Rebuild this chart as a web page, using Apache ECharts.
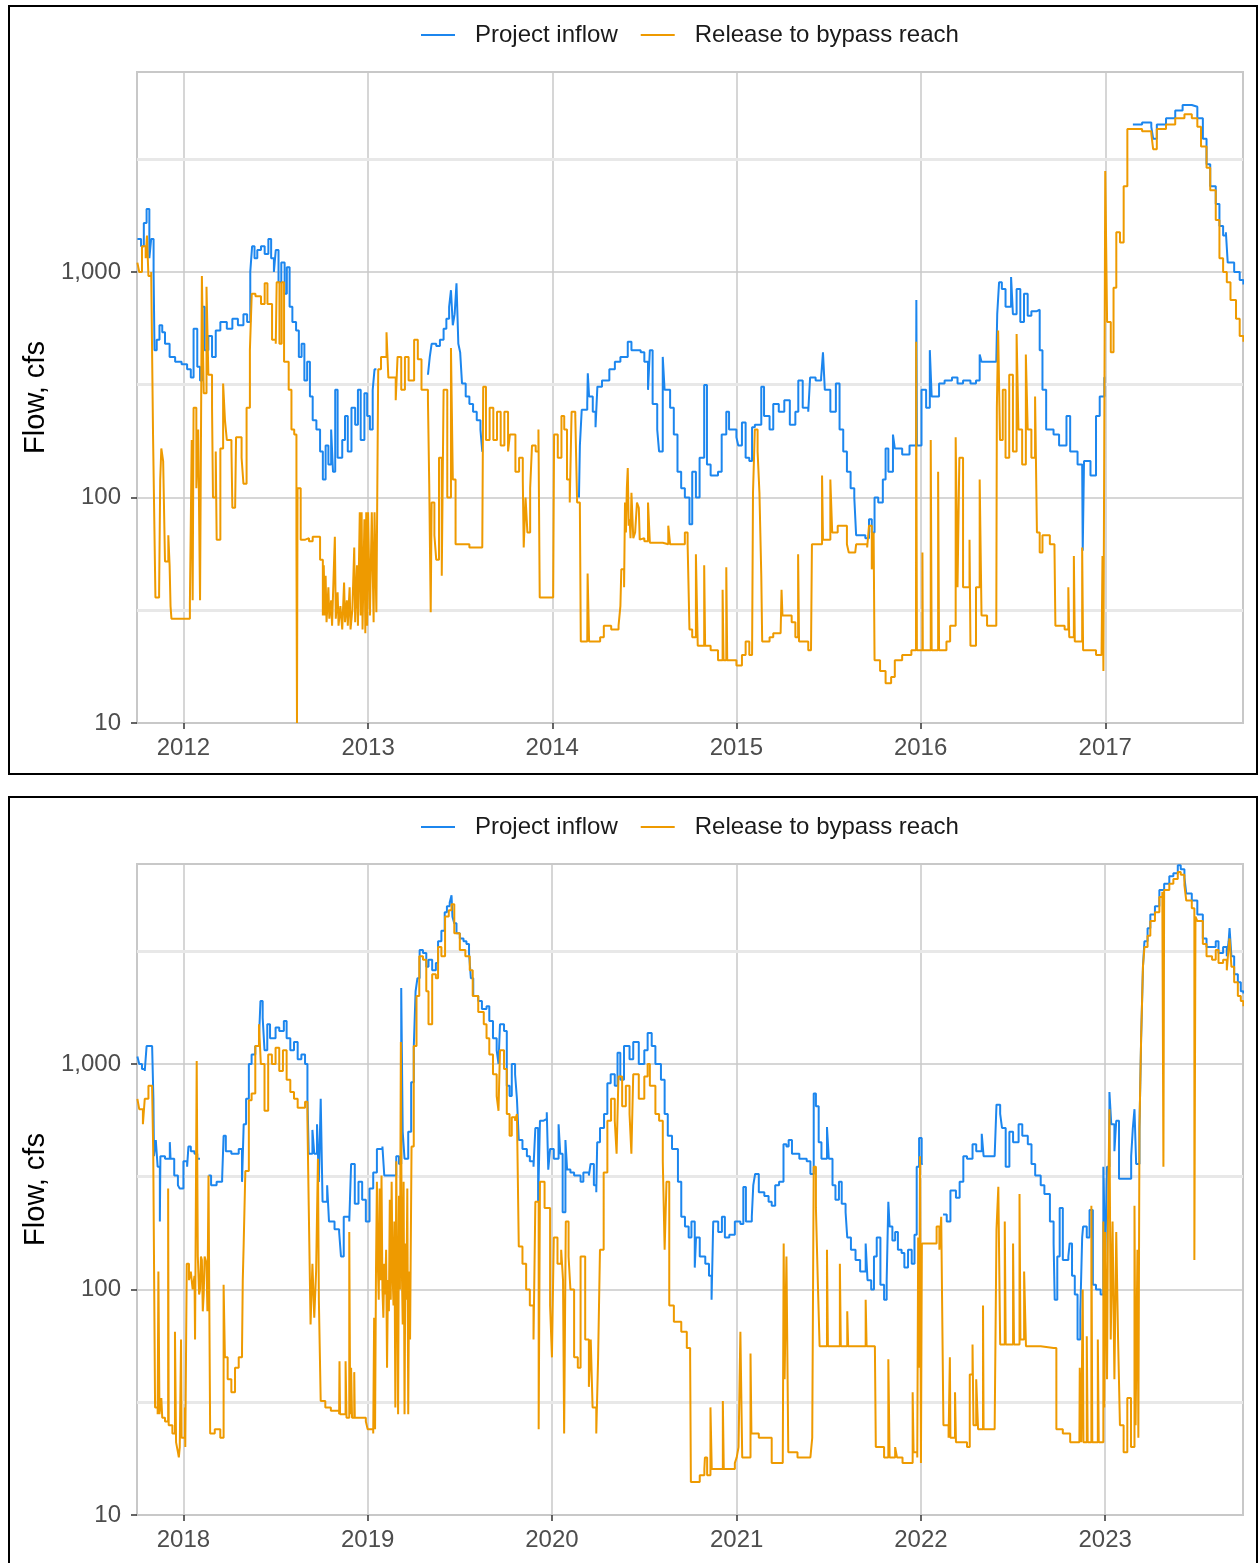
<!DOCTYPE html>
<html>
<head>
<meta charset="utf-8">
<script src="https://cdn.jsdelivr.net/npm/echarts@6/dist/echarts.min.js"></script>
<style>
  body { margin: 0; background: #fff; width: 1259px; height: 1563px; overflow: hidden; position: relative; }
  .panel { position: absolute; left: 8px; width: 1246px; border: 2px solid #000; background: #fff; }
  #top { top: 5px; height: 766px; }
  #bottom { top: 796px; height: 780px; }
</style>
</head>
<body>
<div id="top" class="panel"></div>
<div id="bottom" class="panel"></div>
<script>
// Daily flow, as [decimal year, cfs]; null = no inflow record
const inflowA = [
  [2011.75,1400],[2011.77,1300],[2011.785,1650],[2011.8,1900],[2011.815,1150],[2011.825,1400],[2011.838,1000],
  [2011.843,450],[2011.855,500],[2011.87,580],[2011.885,540],[2011.9,480],[2011.925,420],[2011.955,400],
  [2011.99,390],[2012.02,370],[2012.04,340],[2012.055,560],[2012.075,380],[2012.09,330],[2012.102,700],
  [2012.115,450],[2012.135,520],[2012.155,420],[2012.175,550],[2012.2,600],[2012.235,560],[2012.265,620],
  [2012.295,580],[2012.325,650],[2012.345,600],[2012.362,1000],[2012.372,1300],[2012.385,1150],[2012.4,1250],
  [2012.42,1300],[2012.44,1200],[2012.46,1400],[2012.475,1150],[2012.49,1000],[2012.5,1250],[2012.515,900],
  [2012.53,1100],[2012.548,800],[2012.56,1050],[2012.575,700],[2012.59,600],[2012.61,550],[2012.625,420],
  [2012.64,480],[2012.655,330],[2012.67,400],[2012.685,280],[2012.7,220],[2012.72,200],[2012.74,160],
  [2012.755,120],[2012.77,170],[2012.785,140],[2012.8,200],[2012.81,130],[2012.822,300],[2012.835,150],
  [2012.86,180],[2012.875,230],[2012.89,160],[2012.91,250],[2012.93,210],[2012.945,300],[2012.96,180],
  [2012.98,290],[2012.995,230],[2013.01,200],[2013.025,300],[2013.035,370],[2013.045,null],
  [2013.325,350],[2013.335,420],[2013.345,480],[2013.37,470],[2013.39,500],[2013.41,560],[2013.425,620],
  [2013.44,700],[2013.45,830],[2013.46,580],[2013.47,650],[2013.48,890],[2013.49,480],[2013.5,440],
  [2013.51,320],[2013.53,280],[2013.55,260],[2013.57,240],[2013.59,220],[2013.61,200],[2013.62,160],[2013.625,null],
  [2014.145,100],[2014.15,170],[2014.16,245],[2014.19,260],[2014.193,355],[2014.2,280],[2014.22,240],
  [2014.235,205],[2014.245,310],[2014.27,330],[2014.31,370],[2014.34,400],[2014.37,420],[2014.41,490],
  [2014.43,450],[2014.48,440],[2014.5,400],[2014.52,300],[2014.53,450],[2014.545,260],[2014.57,200],
  [2014.58,160],[2014.6,420],[2014.61,300],[2014.64,250],[2014.66,190],[2014.68,130],[2014.7,110],
  [2014.72,100],[2014.745,76],[2014.76,130],[2014.78,100],[2014.8,150],[2014.825,315],[2014.84,140],
  [2014.86,125],[2014.9,130],[2014.92,190],[2014.945,240],[2014.96,200],[2015.0,185],[2015.01,170],
  [2015.03,215],[2015.05,150],[2015.07,145],[2015.085,205],[2015.1,210],[2015.135,310],[2015.15,230],
  [2015.18,200],[2015.2,260],[2015.23,240],[2015.26,270],[2015.29,210],[2015.32,240],[2015.336,330],
  [2015.36,250],[2015.39,240],[2015.4,340],[2015.43,330],[2015.46,340],[2015.47,440],[2015.48,300],
  [2015.51,240],[2015.54,320],[2015.56,200],[2015.58,160],[2015.6,130],[2015.62,110],[2015.64,100],
  [2015.65,68],[2015.7,66],[2015.72,80],[2015.735,70],[2015.75,100],[2015.77,95],[2015.795,120],
  [2015.81,165],[2015.825,130],[2015.85,190],[2015.86,165],[2015.9,155],[2015.94,170],[2015.975,175],
  [2015.977,750],[2015.98,170],[2016.005,300],[2016.03,250],[2016.05,450],[2016.06,280],[2016.1,320],
  [2016.13,330],[2016.17,340],[2016.2,320],[2016.23,330],[2016.27,320],[2016.3,330],[2016.32,430],
  [2016.33,400],[2016.41,400],[2016.415,650],[2016.425,900],[2016.44,840],[2016.46,700],[2016.49,950],
  [2016.5,650],[2016.52,840],[2016.54,600],[2016.56,800],[2016.58,640],[2016.6,670],[2016.63,680],
  [2016.645,450],[2016.66,300],[2016.68,200],[2016.72,190],[2016.75,170],[2016.79,230],[2016.81,160],
  [2016.85,140],[2016.875,140],[2016.878,58],[2016.885,145],[2016.92,125],[2016.95,230],[2016.97,280],
  [2016.995,340],[2017.0,null],
  [2017.15,4500],[2017.2,4600],[2017.25,4400],[2017.26,3900],[2017.28,4500],[2017.33,4800],[2017.38,5200],
  [2017.42,5500],[2017.47,5400],[2017.5,4800],[2017.53,3900],[2017.55,3000],[2017.57,2400],[2017.6,2000],
  [2017.62,1600],[2017.64,1450],[2017.655,1500],[2017.665,1100],[2017.7,1000],[2017.73,920],[2017.75,880]
];
const releaseA = [
  [2011.75,1100],[2011.76,1000],[2011.775,1300],[2011.795,1150],[2011.802,1450],[2011.81,960],[2011.825,1000],
  [2011.835,190],[2011.845,190],[2011.848,36],[2011.855,36],[2011.868,38],[2011.874,120],[2011.88,165],
  [2011.89,145],[2011.9,52],[2011.918,68],[2011.925,50],[2011.93,33],[2011.935,29],[2011.99,29],[2012.02,29],
  [2012.035,34],[2012.045,180],[2012.05,35],[2012.055,250],[2012.07,110],[2012.08,200],[2012.09,35],
  [2012.1,960],[2012.11,290],[2012.125,860],[2012.135,350],[2012.155,250],[2012.16,100],[2012.175,160],
  [2012.18,65],[2012.2,165],[2012.215,320],[2012.225,220],[2012.235,180],[2012.26,165],[2012.265,90],
  [2012.28,90],[2012.285,185],[2012.315,150],[2012.325,115],[2012.342,250],[2012.36,450],[2012.37,800],
  [2012.39,780],[2012.42,720],[2012.44,890],[2012.455,720],[2012.48,500],[2012.5,480],[2012.505,900],
  [2012.52,480],[2012.532,900],[2012.545,400],[2012.57,300],[2012.585,200],[2012.6,190],[2012.612,65],
  [2012.615,10],[2012.618,110],[2012.635,65],[2012.66,66],[2012.68,64],[2012.7,67],[2012.74,53],
  [2012.755,30],[2012.76,50],[2012.765,30],[2012.77,45],[2012.775,28],[2012.785,40],[2012.79,29],
  [2012.8,35],[2012.805,27],[2012.815,50],[2012.82,67],[2012.825,29],[2012.835,38],[2012.84,27],
  [2012.85,33],[2012.86,26],[2012.87,42],[2012.875,28],[2012.885,35],[2012.89,27],[2012.9,40],
  [2012.905,26],[2012.915,32],[2012.925,60],[2012.93,28],[2012.94,50],[2012.945,27],[2012.955,86],
  [2012.96,30],[2012.965,86],[2012.97,26],[2012.98,80],[2012.985,25],[2012.99,86],[2012.995,27],
  [2013.0,86],[2013.01,30],[2013.02,86],[2013.03,28],[2013.035,86],[2013.045,31],
  [2013.055,370],[2013.07,420],[2013.1,540],[2013.11,340],[2013.15,270],[2013.16,420],[2013.18,300],
  [2013.2,420],[2013.22,330],[2013.25,500],[2013.27,410],[2013.29,300],[2013.325,270],[2013.332,115],
  [2013.34,31],[2013.345,95],[2013.36,68],[2013.37,53],[2013.385,150],[2013.4,45],[2013.41,300],
  [2013.43,100],[2013.45,460],[2013.46,120],[2013.475,62],[2013.55,60],[2013.62,60],[2013.625,310],
  [2013.64,180],[2013.66,250],[2013.68,180],[2013.7,240],[2013.72,170],[2013.74,240],[2013.76,160],
  [2013.77,190],[2013.8,130],[2013.82,150],[2013.84,120],[2013.845,60],[2013.855,100],[2013.865,70],
  [2013.88,110],[2013.89,170],[2013.91,160],[2013.925,200],[2013.932,36],[2013.96,36],[2014.005,37],
  [2014.01,190],[2014.03,150],[2014.05,230],[2014.065,200],[2014.08,120],[2014.095,95],[2014.105,240],
  [2014.125,230],[2014.135,95],[2014.15,90],[2014.155,23],[2014.19,23],[2014.192,46],[2014.2,23],
  [2014.26,24],[2014.28,27],[2014.32,26],[2014.36,27],[2014.37,33],[2014.375,48],[2014.39,40],
  [2014.395,95],[2014.4,70],[2014.405,110],[2014.41,135],[2014.415,75],[2014.42,80],[2014.425,66],
  [2014.43,105],[2014.44,66],[2014.45,70],[2014.46,95],[2014.47,90],[2014.475,65],[2014.48,66],
  [2014.5,64],[2014.52,95],[2014.53,63],[2014.6,62],[2014.63,75],[2014.64,62],[2014.7,62],[2014.72,70],
  [2014.735,62],[2014.745,26],[2014.76,24],[2014.78,56],[2014.79,22],[2014.825,50],[2014.83,22],
  [2014.86,21],[2014.9,19],[2014.925,39],[2014.93,19],[2014.945,49],[2014.95,19],[2015.0,18],[2015.03,20],
  [2015.05,23],[2015.07,20],[2015.085,20],[2015.09,105],[2015.1,200],[2015.115,160],[2015.125,105],
  [2015.135,45],[2015.14,23],[2015.18,24],[2015.2,25],[2015.24,25],[2015.245,39],[2015.25,30],[2015.3,28],
  [2015.32,24],[2015.335,56],[2015.34,23],[2015.39,21],[2015.405,21],[2015.41,62],[2015.44,62],
  [2015.465,125],[2015.47,65],[2015.51,120],[2015.52,70],[2015.55,75],[2015.6,62],[2015.61,57],
  [2015.645,56],[2015.65,62],[2015.71,60],[2015.72,75],[2015.735,48],[2015.745,70],[2015.75,19],
  [2015.78,17],[2015.81,15],[2015.84,16],[2015.86,19],[2015.9,20],[2015.95,21],[2015.975,21],[2015.976,490],
  [2015.98,21],[2016.01,57],[2016.012,21],[2016.055,180],[2016.06,21],[2016.095,130],[2016.1,21],
  [2016.14,23],[2016.16,27],[2016.19,185],[2016.2,40],[2016.21,150],[2016.23,40],[2016.265,65],[2016.27,22],
  [2016.3,40],[2016.32,120],[2016.33,30],[2016.36,27],[2016.41,28],[2016.413,250],[2016.42,550],
  [2016.43,180],[2016.445,300],[2016.46,150],[2016.48,350],[2016.5,160],[2016.52,530],[2016.53,200],
  [2016.55,140],[2016.57,430],[2016.58,200],[2016.6,150],[2016.62,280],[2016.63,70],[2016.645,57],
  [2016.66,68],[2016.7,62],[2016.725,60],[2016.73,27],[2016.78,26],[2016.8,40],[2016.805,24],[2016.83,55],
  [2016.835,23],[2016.875,60],[2016.88,21],[2016.95,20],[2016.98,20],[2016.985,55],[2016.99,17],
  [2017.0,2800],[2017.01,600],[2017.03,440],[2017.045,850],[2017.06,1500],[2017.08,1350],[2017.1,2400],
  [2017.12,4300],[2017.2,4200],[2017.25,4100],[2017.26,3500],[2017.28,4300],[2017.33,4500],[2017.38,4800],
  [2017.43,5000],[2017.47,4800],[2017.5,4400],[2017.52,3600],[2017.55,2900],[2017.57,2300],[2017.6,1700],
  [2017.62,1150],[2017.64,1000],[2017.66,900],[2017.68,750],[2017.71,620],[2017.73,520],[2017.75,490]
];
const inflowB = [
  [2017.75,1080],[2017.76,1000],[2017.775,950],[2017.79,930],[2017.8,1200],[2017.83,1180],[2017.837,700],
  [2017.84,390],[2017.85,460],[2017.86,350],[2017.872,200],[2017.875,390],[2017.9,380],[2017.926,450],
  [2017.93,380],[2017.95,320],[2017.97,290],[2017.98,280],[2018.0,370],[2018.02,350],[2018.027,430],
  [2018.04,410],[2018.06,400],[2018.075,380],[2018.09,null],
  [2018.136,320],[2018.15,290],[2018.18,300],[2018.21,310],[2018.218,480],[2018.23,410],[2018.26,400],
  [2018.3,420],[2018.318,300],[2018.327,540],[2018.34,700],[2018.355,1000],[2018.37,1100],[2018.39,1200],
  [2018.41,1300],[2018.418,1900],[2018.43,1600],[2018.44,1150],[2018.455,1500],[2018.47,1300],[2018.5,1450],
  [2018.52,1400],[2018.545,1550],[2018.56,1300],[2018.58,1150],[2018.6,1250],[2018.62,1050],[2018.64,1100],
  [2018.66,1000],[2018.673,700],[2018.68,400],[2018.7,510],[2018.71,400],[2018.725,540],[2018.735,300],
  [2018.745,700],[2018.755,245],[2018.78,290],[2018.79,200],[2018.82,185],[2018.845,180],[2018.855,140],
  [2018.87,210],[2018.9,200],[2018.91,360],[2018.93,240],[2018.95,300],[2018.97,250],[2018.99,200],
  [2019.01,280],[2019.03,330],[2019.05,420],[2019.08,430],[2019.09,320],
  [2019.155,390],[2019.17,360],[2019.182,2170],[2019.19,500],[2019.2,380],[2019.22,500],[2019.236,830],
  [2019.25,1180],[2019.26,2100],[2019.27,2400],[2019.282,3200],[2019.3,3100],[2019.318,2700],[2019.33,2900],
  [2019.35,2600],[2019.37,2800],[2019.382,3500],[2019.4,3900],[2019.418,4700],[2019.43,5000],[2019.445,5200],
  [2019.455,5600],[2019.46,4500],[2019.47,4200],[2019.482,3800],[2019.5,3600],[2019.52,3500],[2019.536,3400],
  [2019.55,3100],[2019.56,2400],[2019.573,2000],[2019.6,1900],[2019.62,1750],[2019.645,1800],[2019.66,1550],
  [2019.68,1300],[2019.7,1150],[2019.71,1000],[2019.718,1500],[2019.74,1400],[2019.755,800],[2019.77,720],
  [2019.782,1000],[2019.8,900],[2019.81,700],[2019.82,460],[2019.84,420],[2019.864,390],[2019.88,370],
  [2019.9,350],[2019.91,520],[2019.925,245],[2019.935,560],[2019.955,570],[2019.972,610],[2019.98,340],
  [2019.99,420],[2020.01,380],[2020.036,540],[2020.045,400],[2020.058,220],[2020.073,460],[2020.082,340],
  [2020.1,330],[2020.12,320],[2020.155,300],[2020.17,330],[2020.2,320],[2020.209,360],[2020.227,290],
  [2020.24,270],[2020.245,450],[2020.26,520],[2020.282,600],[2020.3,820],[2020.318,900],[2020.34,800],
  [2020.355,1120],[2020.37,850],[2020.39,1200],[2020.42,1050],[2020.44,1250],[2020.47,1000],[2020.5,1150],
  [2020.518,1370],[2020.54,1200],[2020.56,1000],[2020.59,850],[2020.61,600],[2020.627,480],[2020.65,420],
  [2020.682,300],[2020.7,210],[2020.72,190],[2020.74,170],[2020.755,200],[2020.773,125],[2020.78,170],
  [2020.8,140],[2020.83,130],[2020.85,115],[2020.864,90],[2020.873,200],[2020.9,180],[2020.92,210],
  [2020.936,170],[2020.96,175],[2020.99,200],[2021.02,195],[2021.036,285],[2021.05,200],[2021.082,210],
  [2021.09,290],[2021.1,325],[2021.12,270],[2021.15,260],[2021.173,245],[2021.19,235],[2021.209,290],
  [2021.23,300],[2021.254,440],[2021.27,430],[2021.282,460],[2021.3,400],[2021.34,380],[2021.38,370],
  [2021.4,325],[2021.418,740],[2021.43,650],[2021.445,450],[2021.46,380],[2021.49,525],[2021.5,380],
  [2021.52,290],[2021.536,250],[2021.555,300],[2021.57,240],[2021.591,220],[2021.6,170],[2021.62,150],
  [2021.645,135],[2021.67,120],[2021.7,160],[2021.71,110],[2021.73,100],[2021.745,140],[2021.76,170],
  [2021.78,105],[2021.8,90],[2021.814,110],[2021.823,245],[2021.83,190],[2021.845,165],[2021.86,180],
  [2021.875,150],[2021.895,145],[2021.91,125],[2021.93,150],[2021.95,130],[2021.965,175],[2021.977,350],
  [2021.99,470],[2022.004,360],[2022.01,null],
  [2022.12,215],[2022.14,200],[2022.16,275],[2022.19,255],[2022.21,300],[2022.23,390],[2022.25,380],
  [2022.28,440],[2022.3,410],[2022.33,490],[2022.34,390],[2022.4,390],[2022.41,660],[2022.43,600],
  [2022.44,520],[2022.46,350],[2022.48,500],[2022.5,450],[2022.53,540],[2022.55,480],[2022.58,440],
  [2022.6,360],[2022.62,320],[2022.65,290],[2022.67,265],[2022.7,200],[2022.72,160],[2022.726,90],
  [2022.74,140],[2022.753,230],[2022.77,135],[2022.8,140],[2022.807,160],[2022.82,115],[2022.835,95],
  [2022.85,60],[2022.865,80],[2022.875,170],[2022.88,190],[2022.9,170],[2022.915,225],[2022.933,105],
  [2022.95,100],[2022.975,95],[2022.99,350],[2023.0,135],[2023.01,350],[2023.023,750],[2023.033,540],
  [2023.05,410],[2023.06,560],[2023.075,310],[2023.1,310],[2023.13,310],[2023.141,390],[2023.15,520],
  [2023.159,630],[2023.168,360],[2023.186,520],[2023.195,1300],[2023.205,2700],[2023.213,3500],[2023.23,4000],
  [2023.245,4600],[2023.27,5000],[2023.294,5900],[2023.32,6300],[2023.348,6800],[2023.37,7000],[2023.394,7600],
  [2023.41,7300],[2023.43,6700],[2023.44,5700],[2023.47,5300],[2023.5,4600],[2023.53,3600],[2023.55,3300],
  [2023.58,3300],[2023.6,3500],[2023.615,3100],[2023.64,3300],[2023.66,3000],[2023.67,3500],[2023.675,4000],
  [2023.685,3000],[2023.7,2500],[2023.72,2300],[2023.736,2100],[2023.75,2050]
];
const releaseB = [
  [2017.75,700],[2017.76,630],[2017.78,540],[2017.79,700],[2017.81,800],[2017.83,780],[2017.836,410],
  [2017.846,30],[2017.86,28],[2017.864,120],[2017.87,28],[2017.88,33],[2017.885,27],[2017.9,26],
  [2017.917,280],[2017.92,25],[2017.94,23],[2017.954,65],[2017.96,21],[2017.97,19],[2017.975,18],
  [2017.98,20],[2017.987,60],[2017.99,22],[2018.008,30],[2018.01,20],[2018.018,130],[2018.03,110],
  [2018.04,120],[2018.05,100],[2018.06,115],[2018.063,60],[2018.072,1030],[2018.078,140],[2018.085,95],
  [2018.09,100],[2018.095,140],[2018.1,135],[2018.105,80],[2018.11,95],[2018.115,140],[2018.125,130],
  [2018.13,80],[2018.136,320],[2018.145,23],[2018.17,24],[2018.2,22],[2018.218,105],
  [2018.225,50],[2018.24,40],[2018.26,35],[2018.28,45],[2018.3,50],[2018.318,55],[2018.322,110],
  [2018.327,160],[2018.336,335],[2018.355,690],[2018.37,740],[2018.39,1200],[2018.41,1500],[2018.42,1000],
  [2018.44,620],[2018.46,1100],[2018.48,1000],[2018.5,1180],[2018.52,930],[2018.54,1150],[2018.56,850],
  [2018.58,750],[2018.6,700],[2018.62,640],[2018.66,680],[2018.673,560],[2018.68,235],[2018.69,70],
  [2018.7,130],[2018.71,75],[2018.72,120],[2018.73,380],[2018.735,90],[2018.745,32],[2018.77,30],
  [2018.8,29],[2018.845,28],[2018.847,48],[2018.85,28],[2018.88,48],[2018.885,27],[2018.9,180],
  [2018.905,28],[2018.91,45],[2018.915,27],[2018.927,43],[2018.93,27],[2018.96,27],[2018.99,26],
  [2019.0,24],[2019.03,23],[2019.035,75],[2019.04,24],[2019.045,120],[2019.05,300],[2019.055,130],
  [2019.06,90],[2019.065,280],[2019.07,110],[2019.075,320],[2019.08,100],[2019.085,75],[2019.09,130],
  [2019.095,95],[2019.1,150],[2019.105,45],[2019.11,110],[2019.115,80],[2019.12,250],[2019.125,90],
  [2019.13,300],[2019.135,120],[2019.14,85],[2019.145,200],[2019.15,30],[2019.155,370],[2019.16,110],
  [2019.165,28],[2019.17,260],[2019.175,100],[2019.18,1250],[2019.185,130],[2019.19,70],[2019.195,300],
  [2019.2,28],[2019.205,160],[2019.21,90],[2019.215,280],[2019.22,28],[2019.225,120],[2019.23,60],
  [2019.238,430],[2019.25,1200],[2019.265,2000],[2019.28,3000],
  [2019.3,2900],[2019.318,2100],[2019.33,1500],[2019.35,2500],[2019.37,2400],[2019.382,3300],[2019.4,3000],
  [2019.42,4500],[2019.44,4800],[2019.455,5100],[2019.47,3800],[2019.5,3200],[2019.53,3000],[2019.554,2600],
  [2019.57,2000],[2019.6,1700],[2019.63,1500],[2019.645,1300],[2019.66,1100],[2019.68,900],[2019.7,720],
  [2019.71,620],[2019.718,1150],[2019.74,950],[2019.755,600],[2019.77,480],[2019.782,580],[2019.8,560],
  [2019.81,600],[2019.82,155],[2019.84,130],[2019.86,100],[2019.88,85],[2019.9,60],[2019.91,245],
  [2019.928,24],[2019.935,300],[2019.96,230],[2019.99,85],[2020.0,50],[2020.01,170],[2020.03,130],
  [2020.05,150],[2020.06,110],[2020.066,23],[2020.075,200],[2020.09,140],[2020.1,100],[2020.12,50],
  [2020.14,45],[2020.155,140],[2020.18,60],[2020.2,37],[2020.21,60],[2020.22,30],[2020.24,23],[2020.25,50],
  [2020.26,150],[2020.28,330],[2020.3,560],[2020.32,700],[2020.34,560],[2020.35,400],[2020.36,880],
  [2020.38,650],[2020.4,800],[2020.42,600],[2020.43,400],[2020.44,900],[2020.47,700],[2020.5,880],
  [2020.518,1000],[2020.53,800],[2020.56,600],[2020.58,560],[2020.6,370],[2020.61,150],[2020.62,300],
  [2020.635,85],[2020.66,72],[2020.7,65],[2020.73,55],[2020.748,50],[2020.752,14],[2020.8,15],[2020.825,16],
  [2020.828,18],[2020.84,15],[2020.858,30],[2020.865,16],[2020.925,32],[2020.93,16],[2020.97,16],
  [2020.99,17],[2021.0,18],[2021.01,20],[2021.02,65],[2021.03,18],[2021.075,52],[2021.08,23],[2021.12,22],
  [2021.17,22],[2021.19,17],[2021.25,17],[2021.255,160],[2021.26,40],[2021.27,140],[2021.28,19],
  [2021.33,18],[2021.4,18],[2021.41,22],[2021.418,350],[2021.43,230],[2021.44,110],[2021.45,56],
  [2021.49,150],[2021.495,56],[2021.56,130],[2021.565,56],[2021.6,80],[2021.605,56],[2021.7,90],
  [2021.705,56],[2021.75,56],[2021.755,20],[2021.8,18],[2021.823,49],[2021.83,18],[2021.86,20],
  [2021.87,18],[2021.9,17],[2021.955,35],[2021.96,19],[2021.98,18],[2021.985,170],[2021.99,45],
  [2021.995,390],[2022.0,17],[2022.005,160],[2022.04,160],[2022.07,160],[2022.085,190],[2022.1,150],
  [2022.11,210],[2022.12,210],[2022.122,25],[2022.15,22],[2022.157,50],[2022.16,22],[2022.185,35],
  [2022.19,21],[2022.25,20],[2022.265,42],[2022.28,57],[2022.285,25],[2022.3,40],[2022.31,24],
  [2022.337,85],[2022.34,24],[2022.4,24],[2022.41,185],[2022.42,285],[2022.43,57],[2022.455,200],
  [2022.46,57],[2022.5,160],[2022.505,57],[2022.535,265],[2022.54,60],[2022.56,120],[2022.57,56],
  [2022.65,55],[2022.72,55],[2022.735,24],[2022.77,23],[2022.81,21],[2022.86,21],[2022.862,45],
  [2022.87,21],[2022.878,100],[2022.882,21],[2022.9,62],[2022.905,21],[2022.925,235],[2022.93,21],
  [2022.96,60],[2022.965,21],[2022.99,200],[2022.995,30],[2023.0,180],[2023.01,40],[2023.015,200],
  [2023.023,630],[2023.03,60],[2023.04,200],[2023.05,40],[2023.06,180],[2023.07,60],[2023.08,25],
  [2023.1,19],[2023.12,33],[2023.14,20],[2023.159,235],[2023.165,25],[2023.175,150],[2023.18,22],
  [2023.186,520],[2023.195,1300],[2023.205,2700],[2023.213,3300],[2023.23,3700],[2023.245,4300],
  [2023.27,4700],[2023.294,5500],[2023.31,5800],[2023.316,350],[2023.32,5900],[2023.348,6300],
  [2023.37,6600],[2023.394,7100],[2023.41,6900],[2023.43,6200],[2023.44,5300],[2023.47,4900],
  [2023.484,135],[2023.49,4500],[2023.5,4300],[2023.53,3400],[2023.55,3000],[2023.58,2900],[2023.6,3200],
  [2023.615,2800],[2023.64,2900],[2023.66,2600],[2023.67,3300],[2023.675,3600],[2023.685,2700],
  [2023.7,2300],[2023.72,2000],[2023.736,1900],[2023.75,1800]
];

const yearsA = [2012, 2013, 2014, 2015, 2016, 2017];
const yearsB = [2018, 2019, 2020, 2021, 2022, 2023];
const yTicks = [10, 100, 1000];
const yMinor = [31.62, 316.2, 3162];
const yMin = 10, yMax = 7700;

const BLUE = "#1c86ee", ORANGE = "#ee9a00";
const FONT = "Liberation Sans, Arial, sans-serif";

// decimal year -> timestamp
function toTime(y) {
  const yr = Math.floor(y);
  const s = Date.UTC(yr, 0, 1), e = Date.UTC(yr + 1, 0, 1);
  return s + (y - yr) * (e - s);
}
function pts(arr) {
  return arr.map(([y, v]) => [toTime(y), v]);
}

function buildOption(inflow, release, years, gridTop, legendTop) {
  const yearTicks = years.map((y) => Date.UTC(y, 0, 1));
  return {
    animation: false,
    legend: {
      data: ["Project inflow", "Release to bypass reach"],
      left: 406,
      top: legendTop,
      icon: "rect",
      itemWidth: 34,
      itemHeight: 2,
      itemGap: 23,
      textStyle: { fontSize: 24, color: "#1a1a1a", fontFamily: FONT, padding: [0, 0, 0, 15] },
    },
    grid: {
      left: 127, top: gridTop, width: 1106, height: 651,
      show: true, borderColor: "#c8c8c8", borderWidth: 2, backgroundColor: "transparent",
    },
    // timestamps on a plain value axis, ticks at 1 January of each year
    xAxis: {
      type: "value",
      min: Date.UTC(years[0] - 1, 9, 1),
      max: Date.UTC(years[years.length - 1], 9, 1),
      axisLine: { show: false },
      axisTick: { show: true, customValues: yearTicks, length: 6, lineStyle: { color: "#333", width: 1.5 } },
      axisLabel: {
        customValues: yearTicks,
        formatter: (v) => String(new Date(v).getUTCFullYear()),
        fontSize: 24, color: "#4d4d4d", fontFamily: FONT, margin: 13,
      },
      splitLine: { show: true, lineStyle: { color: "#c8c8c8", width: 1.5 } },
    },
    yAxis: {
      type: "log",
      logBase: 10,
      min: yMin,
      max: yMax,
      name: "Flow, cfs",
      nameLocation: "middle",
      nameGap: 82,
      nameTextStyle: { fontSize: 29, color: "#000", fontFamily: FONT },
      axisLine: { show: false },
      axisTick: { show: true, customValues: yTicks, length: 6, lineStyle: { color: "#333", width: 1.5 } },
      axisLabel: {
        customValues: yTicks,
        formatter: (v) => Number(v).toLocaleString("en-US"),
        fontSize: 24, color: "#4d4d4d", fontFamily: FONT, margin: 16,
      },
      splitLine: { show: true, lineStyle: { color: "#c8c8c8", width: 1.5 } },
    },
    series: [
      {
        name: "Project inflow",
        type: "line",
        step: "end",
        symbol: "none",
        showSymbol: false,
        connectNulls: false,
        z: 10,
        data: pts(inflow),
        lineStyle: { color: BLUE, width: 2 },
        itemStyle: { color: BLUE },
        markLine: {
          silent: true,
          symbol: "none",
          z: 1,
          label: { show: false },
          lineStyle: { color: "#e8e8e8", width: 3, type: "solid" },
          data: yMinor.map((v) => ({ yAxis: v })),
        },
      },
      {
        name: "Release to bypass reach",
        type: "line",
        step: "end",
        symbol: "none",
        showSymbol: false,
        z: 11,
        data: pts(release),
        lineStyle: { color: ORANGE, width: 2 },
        itemStyle: { color: ORANGE },
      },
    ],
  };
}

const topChart = echarts.init(document.getElementById("top"));
topChart.setOption(buildOption(inflowA, releaseA, yearsA, 65, 11));
const bottomChart = echarts.init(document.getElementById("bottom"));
bottomChart.setOption(buildOption(inflowB, releaseB, yearsB, 66, 12));
</script>
</body>
</html>
